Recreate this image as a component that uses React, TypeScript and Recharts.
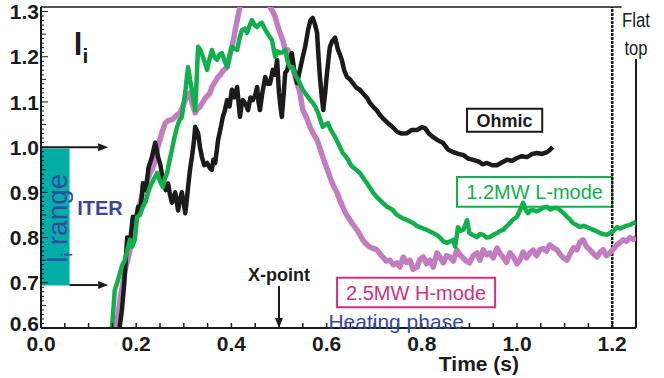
import React from 'react';
import {
  LineChart,
  Line,
  XAxis,
  YAxis,
  ReferenceLine,
  ReferenceArea,
  ReferenceDot
} from 'recharts';

const FONT = '"Liberation Sans", Arial, Helvetica, sans-serif';
const INK = '#1b1b1b';
const GREEN = '#12b04c';
const MAUVE = '#c47cc0';
const PINK = '#d4307c';
const BLUE = '#3748a4';
const TEAL = '#00aea6';

// Ohmic discharge
const ohmicTime = [
  0.165, 0.17, 0.175, 0.181, 0.187, 0.193, 0.199, 0.204, 0.209, 0.214, 0.22, 0.226, 0.233, 0.24, 0.246,
  0.251, 0.256, 0.262, 0.267, 0.271, 0.275, 0.282, 0.288, 0.292, 0.296, 0.3, 0.303, 0.306, 0.309, 0.313,
  0.317, 0.321, 0.324, 0.33, 0.334, 0.338, 0.343, 0.349, 0.354, 0.359, 0.362, 0.366, 0.372, 0.377, 0.382,
  0.386, 0.391, 0.396, 0.401, 0.406, 0.412, 0.415, 0.418, 0.421, 0.424, 0.43, 0.435, 0.44, 0.445, 0.45,
  0.454, 0.457, 0.46, 0.465, 0.471, 0.476, 0.481, 0.487, 0.492, 0.496, 0.5, 0.503, 0.506, 0.51, 0.513,
  0.517, 0.522, 0.527, 0.532, 0.538, 0.544, 0.55, 0.555, 0.561, 0.566, 0.571, 0.576, 0.58, 0.583, 0.586,
  0.59, 0.593, 0.597, 0.6, 0.604, 0.607, 0.612, 0.618, 0.624, 0.628, 0.632, 0.637, 0.643, 0.649, 0.655,
  0.662, 0.67, 0.677, 0.685, 0.691, 0.698, 0.705, 0.712, 0.72, 0.729, 0.738, 0.748, 0.758, 0.769, 0.779,
  0.79, 0.8, 0.807, 0.815, 0.824, 0.834, 0.845, 0.855, 0.866, 0.877, 0.887, 0.897, 0.908, 0.92, 0.928,
  0.937, 0.948, 0.958, 0.968, 0.979, 0.99, 1.0, 1.01, 1.021, 1.032, 1.042, 1.053, 1.063, 1.07, 1.075
];
const ohmicLi = [
  0.6, 0.64, 0.7, 0.8, 0.79, 0.846, 0.83, 0.868, 0.86, 0.92, 0.905, 0.955, 0.978, 1.01, 0.978,
  0.96, 0.927, 0.905, 0.92, 0.895, 0.877, 0.9, 0.86, 0.885, 0.9, 0.875, 0.854, 0.88, 0.912, 0.95,
  0.978, 1.01, 1.045, 1.031, 1.0, 0.978, 0.96, 0.965, 0.955, 0.95, 0.972, 0.965, 1.016, 1.04, 1.067,
  1.08, 1.104, 1.09, 1.127, 1.11, 1.133, 1.1, 1.067, 1.09, 1.104, 1.095, 1.082, 1.11, 1.104, 1.115,
  1.133, 1.1, 1.082, 1.12, 1.155, 1.14, 1.14, 1.171, 1.16, 1.193, 1.12, 1.09, 1.067, 1.12, 1.164,
  1.17, 1.19, 1.208, 1.17, 1.142, 1.171, 1.2, 1.222, 1.259, 1.28, 1.286, 1.27, 1.253, 1.2, 1.155,
  1.11, 1.082, 1.12, 1.155, 1.195, 1.222, 1.235, 1.242, 1.215, 1.205, 1.193, 1.17, 1.155, 1.15, 1.142,
  1.132, 1.127, 1.118, 1.109, 1.098, 1.089, 1.082, 1.071, 1.062, 1.053, 1.045, 1.034, 1.03, 1.031, 1.038,
  1.038, 1.044, 1.042, 1.03, 1.022, 1.015, 1.009, 0.995, 0.989, 0.985, 0.983, 0.975, 0.972, 0.968, 0.962,
  0.965, 0.96, 0.96, 0.966, 0.972, 0.97, 0.976, 0.98, 0.978, 0.985, 0.987, 0.985, 0.989, 0.995, 1.0
];

// 1.2 MW L-mode
const lModeTime = [
  0.149, 0.152, 0.155, 0.16, 0.166, 0.171, 0.176, 0.181, 0.187, 0.192, 0.197, 0.202, 0.208, 0.214, 0.22,
  0.225, 0.229, 0.235, 0.24, 0.244, 0.25, 0.256, 0.26, 0.265, 0.27, 0.275, 0.28, 0.286, 0.291, 0.296,
  0.3, 0.303, 0.306, 0.309, 0.313, 0.317, 0.321, 0.324, 0.327, 0.33, 0.335, 0.34, 0.345, 0.349, 0.354,
  0.359, 0.364, 0.37, 0.375, 0.38, 0.386, 0.391, 0.396, 0.401, 0.406, 0.412, 0.417, 0.422, 0.428, 0.433,
  0.438, 0.443, 0.449, 0.454, 0.459, 0.464, 0.47, 0.475, 0.48, 0.485, 0.488, 0.492, 0.497, 0.502, 0.508,
  0.513, 0.519, 0.523, 0.529, 0.534, 0.54, 0.545, 0.55, 0.556, 0.561, 0.566, 0.571, 0.577, 0.582, 0.587,
  0.592, 0.598, 0.603, 0.608, 0.613, 0.619, 0.624, 0.629, 0.634, 0.64, 0.645, 0.65, 0.655, 0.662, 0.67,
  0.677, 0.685, 0.691, 0.698, 0.705, 0.712, 0.72, 0.727, 0.733, 0.739, 0.746, 0.754, 0.761, 0.769, 0.776,
  0.782, 0.789, 0.796, 0.803, 0.811, 0.818, 0.824, 0.831, 0.838, 0.845, 0.853, 0.86, 0.866, 0.87, 0.873,
  0.876, 0.881, 0.887, 0.892, 0.895, 0.9, 0.908, 0.916, 0.922, 0.929, 0.936, 0.943, 0.95, 0.958, 0.965,
  0.971, 0.978, 0.985, 0.992, 1.0, 1.006, 1.013, 1.018, 1.023, 1.028, 1.034, 1.041, 1.048, 1.055, 1.063,
  1.07, 1.076, 1.083, 1.09, 1.097, 1.105, 1.111, 1.118, 1.125, 1.132, 1.14, 1.147, 1.154, 1.16, 1.167,
  1.174, 1.181, 1.189, 1.195, 1.203, 1.21, 1.217, 1.223, 1.23, 1.237, 1.244, 1.25
];
const lModeLi = [
  0.6, 0.64, 0.684, 0.7, 0.722, 0.74, 0.75, 0.77, 0.795, 0.78, 0.795, 0.846, 0.85, 0.868, 0.88,
  0.9, 0.912, 0.925, 0.935, 0.943, 0.925, 0.912, 0.93, 0.943, 0.97, 0.994, 1.02, 1.045, 1.06, 1.067,
  1.1, 1.12, 1.15, 1.177, 1.15, 1.127, 1.1, 1.082, 1.15, 1.222, 1.215, 1.2, 1.185, 1.171, 1.195,
  1.215, 1.2, 1.193, 1.205, 1.208, 1.19, 1.177, 1.2, 1.222, 1.218, 1.215, 1.24, 1.259, 1.262, 1.253,
  1.268, 1.281, 1.27, 1.266, 1.272, 1.275, 1.262, 1.253, 1.245, 1.237, 1.222, 1.2, 1.212, 1.208, 1.21,
  1.215, 1.186, 1.177, 1.177, 1.16, 1.149, 1.138, 1.127, 1.118, 1.111, 1.104, 1.098, 1.088, 1.076, 1.06,
  1.045, 1.05, 1.053, 1.04, 1.031, 1.02, 1.009, 0.998, 0.987, 0.98, 0.972, 0.962, 0.956, 0.95, 0.943,
  0.932, 0.92, 0.91, 0.899, 0.89, 0.883, 0.875, 0.868, 0.865, 0.861, 0.852, 0.846, 0.842, 0.839, 0.835,
  0.832, 0.826, 0.823, 0.82, 0.817, 0.813, 0.81, 0.806, 0.8, 0.792, 0.788, 0.792, 0.795, 0.78, 0.8,
  0.823, 0.815, 0.817, 0.83, 0.839, 0.81, 0.805, 0.801, 0.808, 0.806, 0.8, 0.801, 0.806, 0.81, 0.815,
  0.817, 0.825, 0.832, 0.84, 0.846, 0.86, 0.877, 0.862, 0.854, 0.86, 0.861, 0.858, 0.861, 0.866, 0.868,
  0.862, 0.865, 0.866, 0.861, 0.855, 0.846, 0.84, 0.832, 0.828, 0.823, 0.826, 0.823, 0.82, 0.817, 0.814,
  0.81, 0.808, 0.806, 0.81, 0.815, 0.823, 0.82, 0.823, 0.826, 0.828, 0.832, 0.834
];

// 2.5 MW H-mode
const hModeTime = [
  0.158, 0.162, 0.167, 0.172, 0.177, 0.182, 0.187, 0.192, 0.197, 0.202, 0.208, 0.214, 0.22, 0.225, 0.229,
  0.235, 0.24, 0.245, 0.25, 0.255, 0.261, 0.266, 0.271, 0.277, 0.282, 0.287, 0.292, 0.298, 0.303, 0.308,
  0.313, 0.318, 0.324, 0.329, 0.334, 0.34, 0.346, 0.351, 0.355, 0.36, 0.366, 0.372, 0.377, 0.383, 0.391,
  0.396, 0.401, 0.405, 0.408, 0.413, 0.418, 0.425, 0.435, 0.445, 0.455, 0.465, 0.475, 0.481, 0.487, 0.492,
  0.498, 0.502, 0.508, 0.513, 0.519, 0.523, 0.529, 0.534, 0.539, 0.544, 0.547, 0.55, 0.558, 0.565, 0.572,
  0.58, 0.586, 0.592, 0.6, 0.607, 0.614, 0.622, 0.628, 0.634, 0.641, 0.649, 0.656, 0.664, 0.67, 0.676,
  0.683, 0.691, 0.698, 0.706, 0.712, 0.718, 0.725, 0.733, 0.74, 0.748, 0.754, 0.761, 0.768, 0.775, 0.782,
  0.79, 0.796, 0.803, 0.81, 0.817, 0.824, 0.832, 0.838, 0.845, 0.852, 0.859, 0.866, 0.874, 0.88, 0.887,
  0.893, 0.9, 0.908, 0.916, 0.922, 0.929, 0.936, 0.943, 0.95, 0.958, 0.964, 0.971, 0.978, 0.985, 0.992,
  1.0, 1.006, 1.013, 1.02, 1.027, 1.034, 1.041, 1.048, 1.055, 1.062, 1.069, 1.076, 1.084, 1.091, 1.098,
  1.105, 1.112, 1.119, 1.126, 1.132, 1.139, 1.146, 1.153, 1.16, 1.168, 1.175, 1.181, 1.188, 1.195, 1.203,
  1.21, 1.217, 1.223, 1.23, 1.237, 1.244, 1.25
];
const hModeLi = [
  0.6, 0.63, 0.67, 0.7, 0.73, 0.75, 0.773, 0.8, 0.83, 0.854, 0.875, 0.9, 0.915, 0.93, 0.943,
  0.955, 0.972, 1.0, 1.016, 1.035, 1.053, 1.058, 1.06, 1.062, 1.067, 1.072, 1.076, 1.09, 1.104, 1.112,
  1.12, 1.095, 1.076, 1.085, 1.089, 1.1, 1.11, 1.115, 1.12, 1.135, 1.145, 1.155, 1.16, 1.17, 1.177,
  1.2, 1.222, 1.24, 1.259, 1.285, 1.31, 1.34, 1.36, 1.37, 1.365, 1.35, 1.33, 1.31, 1.3, 1.288,
  1.266, 1.253, 1.237, 1.215, 1.215, 1.193, 1.175, 1.155, 1.138, 1.12, 1.1, 1.082, 1.065, 1.045, 1.03,
  1.016, 0.998, 0.978, 0.955, 0.934, 0.915, 0.899, 0.882, 0.868, 0.852, 0.839, 0.828, 0.817, 0.806, 0.795,
  0.786, 0.779, 0.776, 0.773, 0.764, 0.757, 0.748, 0.75, 0.74, 0.744, 0.735, 0.757, 0.745, 0.75, 0.73,
  0.735, 0.752, 0.757, 0.742, 0.75, 0.735, 0.766, 0.757, 0.744, 0.76, 0.757, 0.748, 0.773, 0.762, 0.755,
  0.748, 0.744, 0.76, 0.766, 0.75, 0.773, 0.762, 0.766, 0.755, 0.777, 0.765, 0.757, 0.745, 0.766, 0.758,
  0.742, 0.75, 0.768, 0.755, 0.766, 0.772, 0.76, 0.773, 0.776, 0.77, 0.784, 0.778, 0.773, 0.762, 0.755,
  0.75, 0.765, 0.778, 0.773, 0.79, 0.795, 0.78, 0.773, 0.765, 0.757, 0.768, 0.773, 0.76, 0.766, 0.775,
  0.784, 0.79, 0.795, 0.792, 0.8, 0.796, 0.8
];

const xLabels = [0, 0.2, 0.4, 0.6, 0.8, 1.0, 1.2];
const yLabels = [0.6, 0.7, 0.8, 0.9, 1.0, 1.1, 1.2, 1.3];
const xTicks = Array.from({ length: 26 }, (_, i) => (i * 5) / 100);
const yTicks = Array.from({ length: 71 }, (_, i) => (60 + i) / 100);
const topTicks = xTicks.filter((t) => t <= 1.2001);
const rightTicks = yTicks.filter((v) => v < 1.195);

const toPoints = (time: number[], li: number[]) => time.map((t, i) => ({ t, li: li[i] }));
const ohmic = toPoints(ohmicTime, ohmicLi);
const lMode = toPoints(lModeTime, lModeLi);
const hMode = toPoints(hModeTime, hModeLi);

const onList = (list: number[], v: number) => list.some((l) => Math.abs(l - v) < 1e-6);
const onStep = (v: number, step: number) => Math.abs(v / step - Math.round(v / step)) < 1e-6;

const BottomTick = ({ x, y, payload }: any) => {
  const v = payload.value;
  return (
    <g>
      <line x1={x} y1={y} x2={x} y2={y - 5} stroke={INK} strokeWidth={1.5} />
      {onList(xLabels, v) && (
        <text x={x} y={y + 23} textAnchor="middle" fill={INK} fontFamily={FONT} fontSize={21} fontWeight="bold">
          {v.toFixed(1)}
        </text>
      )}
    </g>
  );
};

const TopTick = ({ x, y, payload }: any) => (
  <line x1={x} y1={y} x2={x} y2={y + (onStep(payload.value, 0.2) ? 7 : 4)} stroke={INK} strokeWidth={1.5} />
);

const LeftTick = ({ x, y, payload }: any) => {
  const v = payload.value;
  const major = onList(yLabels, v);
  // the lowest label sits a little above its tick, clear of the time labels
  const lift = Math.abs(v - 0.6) < 1e-6 ? -5 : 0;
  return (
    <g>
      <line x1={x} y1={y} x2={x + (major ? 7 : onStep(v, 0.05) ? 5 : 3)} y2={y} stroke={INK} strokeWidth={1} />
      {major && (
        <text x={x - 2} y={y + lift} dy="0.36em" textAnchor="end" fill={INK} fontFamily={FONT} fontSize={21} fontWeight="bold">
          {v.toFixed(1)}
        </text>
      )}
    </g>
  );
};

const RightTick = ({ x, y, payload }: any) => {
  const v = payload.value;
  return <line x1={x} y1={y} x2={x - (onStep(v, 0.1) ? 7 : 3)} y2={y} stroke={INK} strokeWidth={1} />;
};

// straight arrow with a filled head at the second end point
const Arrow = ({ x1, y1, x2, y2 }: any) => {
  const a = Math.atan2(y2 - y1, x2 - x1);
  const bx = x2 - 10 * Math.cos(a);
  const by = y2 - 10 * Math.sin(a);
  const nx = -Math.sin(a) * 4;
  const ny = Math.cos(a) * 4;
  return (
    <g>
      <line x1={x1} y1={y1} x2={bx} y2={by} stroke={INK} strokeWidth={2} />
      <polygon points={`${x2},${y2} ${bx + nx},${by + ny} ${bx - nx},${by - ny}`} fill={INK} />
    </g>
  );
};

const TimeLabel = ({ viewBox }: any) => (
  <text
    x={viewBox.x + viewBox.width * 0.736}
    y={viewBox.y + 43}
    textAnchor="middle"
    fill={INK}
    fontFamily={FONT}
    fontSize={21}
    fontWeight="bold"
  >
    Time (s)
  </text>
);

const LiTitle = ({ viewBox }: any) => (
  <text x={viewBox.x} y={viewBox.y} fill={INK} fontFamily={FONT} fontSize={31} fontWeight="bold">
    l<tspan fontSize={21} dy={8}>i</tspan>
  </text>
);

const RangeLabel = ({ viewBox }: any) => {
  const cx = viewBox.x + viewBox.width / 2;
  const cy = viewBox.y + viewBox.height / 2;
  return (
    <text
      x={cx}
      y={cy}
      transform={`rotate(-90 ${cx} ${cy})`}
      textAnchor="middle"
      fill={BLUE}
      fontFamily={FONT}
      fontSize={27}
      textLength={89}
      lengthAdjust="spacingAndGlyphs"
    >
      l<tspan fontSize={15} dy={5}>i</tspan>
      <tspan dy={-5}> range</tspan>
    </text>
  );
};

const NarrowWord = ({ viewBox, word, width }: any) => (
  <text
    x={viewBox.x + viewBox.width / 2}
    y={viewBox.y + viewBox.height / 2}
    dy="0.36em"
    textAnchor="middle"
    fill={INK}
    fontFamily={FONT}
    fontSize={21}
    textLength={width}
    lengthAdjust="spacingAndGlyphs"
  >
    {word}
  </text>
);

const note = (t: number, v: number, label: any) => (
  <ReferenceDot x={t} y={v} r={0} fill="none" stroke="none" ifOverflow="visible" label={label} />
);

export default function App() {
  return (
    <div style={{ position: 'absolute', left: 0, top: 0, background: '#fff' }}>
      <LineChart width={664} height={378} margin={{ top: 7, right: 28, left: 0, bottom: 0 }}>
        <XAxis
          type="number"
          dataKey="t"
          domain={[0, 1.25]}
          allowDataOverflow
          ticks={xTicks}
          interval={0}
          tick={<BottomTick />}
          tickLine={false}
          tickSize={0}
          tickMargin={0}
          height={50}
          axisLine={{ stroke: INK, strokeWidth: 2 }}
          label={<TimeLabel />}
        />
        <XAxis
          xAxisId="top"
          orientation="top"
          type="number"
          domain={[0, 1.25]}
          allowDataOverflow
          ticks={topTicks}
          interval={0}
          tick={<TopTick />}
          tickLine={false}
          tickSize={0}
          tickMargin={0}
          height={0}
          axisLine={false}
        />
        <YAxis
          type="number"
          domain={[0.6, 1.31]}
          allowDataOverflow
          ticks={yTicks}
          interval={0}
          tick={<LeftTick />}
          tickLine={false}
          tickSize={0}
          tickMargin={0}
          width={41}
          axisLine={{ stroke: INK, strokeWidth: 2 }}
        />
        <YAxis
          yAxisId="right"
          orientation="right"
          type="number"
          domain={[0.6, 1.31]}
          allowDataOverflow
          ticks={rightTicks}
          interval={0}
          tick={<RightTick />}
          tickLine={false}
          tickSize={0}
          tickMargin={0}
          width={0}
          axisLine={false}
        />

        {/* frame: top edge stops short of the flat-top note, right edge starts below it */}
        <ReferenceLine segment={[{ x: 0, y: 1.31 }, { x: 1.22, y: 1.31 }]} stroke={INK} strokeWidth={1.5} ifOverflow="visible" />
        <ReferenceLine segment={[{ x: 1.25, y: 0.6 }, { x: 1.25, y: 1.195 }]} stroke={INK} strokeWidth={2} ifOverflow="visible" />
        <ReferenceLine x={1.2} stroke={INK} strokeWidth={2.5} strokeDasharray="3 1" ifOverflow="visible" />

        {/* ITER li range */}
        <ReferenceArea x1={0} x2={0.06} y1={0.694} y2={0.997} fill={TEAL} fillOpacity={1} stroke="none" ifOverflow="visible" />
        <ReferenceLine segment={[{ x: 0, y: 1.0 }, { x: 0.141, y: 1.0 }]} shape={Arrow} ifOverflow="visible" />
        <ReferenceLine segment={[{ x: 0.06, y: 0.695 }, { x: 0.141, y: 0.695 }]} shape={Arrow} ifOverflow="visible" />
        <ReferenceLine segment={[{ x: 0.5, y: 0.693 }, { x: 0.5, y: 0.6 }]} shape={Arrow} ifOverflow="visible" />

        <Line data={hMode} dataKey="li" type="linear" stroke={MAUVE} strokeWidth={5.5} strokeLinejoin="round" dot={false} isAnimationActive={false} />
        <Line data={ohmic} dataKey="li" type="linear" stroke={INK} strokeWidth={4.5} strokeLinejoin="round" dot={false} isAnimationActive={false} />
        <Line data={lMode} dataKey="li" type="linear" stroke={GREEN} strokeWidth={4.5} strokeLinejoin="round" dot={false} isAnimationActive={false} />

        <ReferenceArea
          x1={0.895} x2={1.053} y1={1.034} y2={1.085}
          fill="#fff" fillOpacity={1} stroke={INK} strokeWidth={2}
          label={{ value: 'Ohmic', position: 'center', fill: INK, fontSize: 18, fontWeight: 'bold', fontFamily: FONT }}
        />
        <ReferenceArea
          x1={0.874} x2={1.2} y1={0.868} y2={0.934}
          fill="#fff" fillOpacity={1} stroke={GREEN} strokeWidth={2}
          label={{ value: '1.2MW L-mode', position: 'center', fill: GREEN, fontSize: 20, fontFamily: FONT }}
        />
        <ReferenceArea
          x1={0.622} x2={0.954} y1={0.646} y2={0.711}
          fill="#fff" fillOpacity={1} stroke={PINK} strokeWidth={2}
          label={{ value: '2.5MW H-mode', position: 'center', fill: PINK, fontSize: 20, fontFamily: FONT }}
        />

        {note(0.069, 1.204, <LiTitle />)}
        {note(0.054, 0.843, <RangeLabel />)}
        {note(0.124, 0.865, { value: 'ITER', position: 'center', fill: BLUE, fontSize: 20, fontWeight: 'bold', fontFamily: FONT })}
        {note(0.5, 0.717, { value: 'X-point', position: 'center', fill: INK, fontSize: 18, fontWeight: 'bold', fontFamily: FONT })}
        {note(0.746, 0.615, { value: 'Heating phase', position: 'center', fill: BLUE, fontSize: 21, fontFamily: FONT })}
        {note(1.25, 1.283, <NarrowWord word="Flat" width={28} />)}
        {note(1.25, 1.22, <NarrowWord word="top" width={23} />)}
      </LineChart>
    </div>
  );
}
